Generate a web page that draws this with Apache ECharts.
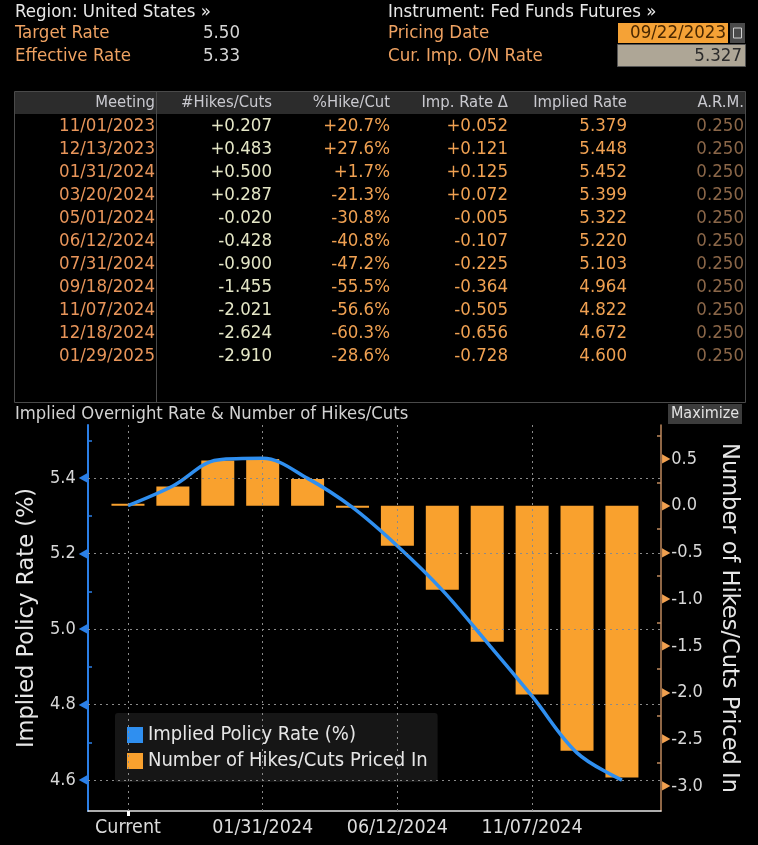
<!DOCTYPE html>
<html>
<head>
<meta charset="utf-8">
<script src="https://cdn.jsdelivr.net/npm/echarts@6/dist/echarts.min.js"></script>
<style>
html,body{margin:0;padding:0;background:#000;}
#chart{width:758px;height:845px;}
</style>
</head>
<body>
<div id="chart"></div>
<script>
// ---- data ----
const meetings = ['11/01/2023','12/13/2023','01/31/2024','03/20/2024','05/01/2024','06/12/2024','07/31/2024','09/18/2024','11/07/2024','12/18/2024','01/29/2025'];
const hikesCuts = [0.207,0.483,0.500,0.287,-0.020,-0.428,-0.900,-1.455,-2.021,-2.624,-2.910];
const pctHikeCut = [20.7,27.6,1.7,-21.3,-30.8,-40.8,-47.2,-55.5,-56.6,-60.3,-28.6];
const impRateDelta = [0.052,0.121,0.125,0.072,-0.005,-0.107,-0.225,-0.364,-0.505,-0.656,-0.728];
const impliedRate = [5.379,5.448,5.452,5.399,5.322,5.220,5.103,4.964,4.822,4.672,4.600];
const arm = [0.250,0.250,0.250,0.250,0.250,0.250,0.250,0.250,0.250,0.250,0.250];
const targetRate = '5.50';
const effectiveRate = '5.33';
const pricingDate = '09/22/2023';
const curImpRate = 5.327;

const categories = ['Current'].concat(meetings);
const rateSeries = [curImpRate].concat(impliedRate);
const hikeSeries = [0].concat(hikesCuts);
const xLabelIdx = [0,3,6,9];
const leftTicks = [4.6,4.8,5.0,5.2,5.4];
const leftMinor = [4.7,4.9,5.1,5.3,5.5];
const rightTicks = [0.5,0.0,-0.5,-1.0,-1.5,-2.0,-2.5,-3.0];
const rightMinor = [0.75,0.25,-0.25,-0.75,-1.25,-1.75,-2.25,-2.75];

// ---- styling ----
const FONT = '"DejaVu Sans Condensed","Liberation Sans Narrow","DejaVu Sans",sans-serif';
const ORANGE_LBL = '#efa262';
const DATE_C = '#e8955a';
const HIKE_C = '#e4e6c6';
const ORANGE_V = '#f0a152';
const ARM_C = '#8a6648';
const BAR_C = '#f9a12e';
const LINE_C = '#2f8ff0';

function sgn(v, d){ return (v >= 0 ? '+' : '') + v.toFixed(d); }

const g = [];
function txt(x, y, s, fill, size, align, weight){
  g.push({type:'text', x:x, y:y, silent:true,
    style:{text:s, fill:fill, font:(weight||'normal')+' '+size+'px '+FONT,
      align:align||'left', textAlign:align||'left', verticalAlign:'middle', textVerticalAlign:'middle'}});
}
function rect(x, y, w, h, fill, stroke){
  g.push({type:'rect', silent:true, shape:{x:x,y:y,width:w,height:h},
    style:{fill:fill||'none', stroke:stroke||null, lineWidth:1}});
}

// header panel
txt(15, 12, 'Region: United States \u00bb', '#e8e8e8', 18.5);
txt(15, 33, 'Target Rate', ORANGE_LBL, 18.5);
txt(240, 33, targetRate, '#d6d6d6', 18.5, 'right');
txt(15, 56, 'Effective Rate', ORANGE_LBL, 18.5);
txt(240, 56, effectiveRate, '#d6d6d6', 18.5, 'right');
txt(388, 12, 'Instrument: Fed Funds Futures \u00bb', '#e8e8e8', 18.5);
txt(388, 33, 'Pricing Date', ORANGE_LBL, 18.5);
txt(388, 56, 'Cur. Imp. O/N Rate', ORANGE_LBL, 18.5);
rect(618, 23, 110, 20, '#f5a236');
txt(726, 33, pricingDate, '#4a2800', 18.5, 'right');
rect(730, 23, 15, 20, '#4a4a4a');
rect(733.5, 28, 8, 10, 'none', '#cfcfcf');
rect(617.5, 44.5, 128, 22, '#aea696', '#555');
txt(742, 56, curImpRate.toFixed(3), '#2c2c2c', 18.5, 'right');

// table
rect(14.5, 91.5, 731, 311, 'none', '#4a4a4a');
rect(15, 92, 730, 22, '#2c2c2c');
g.push({type:'line', silent:true, shape:{x1:156.5,y1:92,x2:156.5,y2:402}, style:{stroke:'#4a4a4a', lineWidth:1}});
const colRight = [155, 272, 390, 508, 627, 744];
const headers = ['Meeting','#Hikes/Cuts','%Hike/Cut','Imp. Rate \u0394','Implied Rate','A.R.M.'];
headers.forEach((h,i)=> txt(colRight[i], 103, h, '#c9c9cf', 16.5, 'right'));
meetings.forEach((m,i)=>{
  const y = 126 + i*23;
  txt(colRight[0], y, m, DATE_C, 18.5, 'right');
  txt(colRight[1], y, sgn(hikesCuts[i],3), HIKE_C, 18.5, 'right');
  txt(colRight[2], y, sgn(pctHikeCut[i],1)+'%', ORANGE_V, 18.5, 'right');
  txt(colRight[3], y, sgn(impRateDelta[i],3), ORANGE_V, 18.5, 'right');
  txt(colRight[4], y, impliedRate[i].toFixed(3), ORANGE_V, 18.5, 'right');
  txt(colRight[5], y, arm[i].toFixed(3), ARM_C, 18.5, 'right');
});

// chart header
txt(15, 414, 'Implied Overnight Rate & Number of Hikes/Cuts', '#d2d2d2', 18.3);
rect(668, 404, 74, 20, '#3c3c3c');
txt(705, 414, 'Maximize', '#e2e2e2', 16, 'center');

const chart = echarts.init(document.getElementById('chart'), null, {renderer:'canvas'});
const option = {
  backgroundColor:'#000',
  animation:false,
  graphic:g,
  grid:{left:88, right:97, top:425, bottom:34},
  legend:{
    orient:'vertical', left:115, top:713,
    backgroundColor:'#161616', borderRadius:3,
    padding:[12, 10, 11, 12], itemGap:6, itemWidth:16, itemHeight:16,
    textStyle:{color:'#e6e6e6', fontSize:20, fontFamily:FONT},
    data:[{name:'Implied Policy Rate (%)', icon:'rect'},{name:'Number of Hikes/Cuts Priced In', icon:'rect'}],
    selectedMode:false
  },
  xAxis:{
    type:'value', min:-0.89, max:11.87,
    axisLine:{onZero:false, lineStyle:{color:'#e6e6e6', width:1.5}},
    axisTick:{show:true, customValues:[0], length:5, lineStyle:{color:'#ffffff', width:3}},
    axisLabel:{customValues:xLabelIdx, color:'#dcdcdc', fontSize:19.5, fontFamily:FONT, margin:7,
      formatter:(v)=>categories[Math.round(v)]},
    splitLine:{show:false}
  },
  yAxis:[
    {type:'value', min:4.518, max:5.5404, position:'left',
      name:'Implied Policy Rate (%)', nameLocation:'middle', nameGap:45, nameRotate:90,
      nameTextStyle:{color:'#e6e6e6', fontSize:22.5, fontFamily:'"DejaVu Sans",sans-serif'},
      axisLine:{show:true, onZero:false, lineStyle:{color:'#2b7fe6', width:2}},
      axisTick:{show:true, inside:true, customValues:leftMinor, length:4, lineStyle:{color:'#2b7fe6', width:1.5}},
      axisLabel:{customValues:leftTicks, margin:1, color:'#d8d8d8', fontSize:18, fontFamily:FONT,
        formatter:(v)=>'{v|'+v.toFixed(1)+'}{t|\u25c0}',
        rich:{v:{color:'#d8d8d8', fontSize:18, fontFamily:FONT, padding:[0,3,0,0]}, t:{color:'#2b7fe6', fontSize:12}}},
      splitLine:{show:false}
    },
    {type:'value', min:-3.268, max:0.864, position:'right',
      name:'Number of Hikes/Cuts Priced In', nameLocation:'middle', nameGap:56, nameRotate:-90,
      nameTextStyle:{color:'#e6e6e6', fontSize:22.5, fontFamily:'"DejaVu Sans",sans-serif'},
      axisLine:{show:true, onZero:false, lineStyle:{color:'#c08a5e', width:1.5}},
      axisTick:{show:true, inside:true, customValues:rightMinor, length:4, lineStyle:{color:'#c08a5e', width:1.5}},
      axisLabel:{customValues:rightTicks, margin:1, color:'#d8d8d8', fontSize:18, fontFamily:FONT,
        formatter:(v)=>'{t|\u25b6}{v|'+v.toFixed(1)+'}',
        rich:{v:{color:'#d8d8d8', fontSize:18, fontFamily:FONT, padding:[0,0,0,1]}, t:{color:'#f0a050', fontSize:12}}},
      splitLine:{show:false}
    }
  ],
  series:[
    {name:'grid', type:'line', data:[], yAxisIndex:0, z:1, silent:true,
      markLine:{silent:true, symbol:'none', label:{show:false}, animation:false,
        lineStyle:{type:[2,4], color:'#8a8a8a', width:1},
        data: leftTicks.map(v=>({yAxis:v})).concat(xLabelIdx.map(i=>({xAxis:i})))}
    },
    {name:'Number of Hikes/Cuts Priced In', type:'bar', yAxisIndex:1, z:2,
      barWidth:33, barMinHeight:2,
      itemStyle:{color:BAR_C},
      data: hikeSeries.map((v,i)=>[i, v])
    },
    {name:'Implied Policy Rate (%)', type:'line', yAxisIndex:0, z:3,
      smooth:0.35, symbol:'none',
      lineStyle:{color:LINE_C, width:3.5}, itemStyle:{color:LINE_C},
      data: rateSeries.map((v,i)=>[i, v])
    }
  ]
};
chart.setOption(option);
</script>
</body>
</html>
